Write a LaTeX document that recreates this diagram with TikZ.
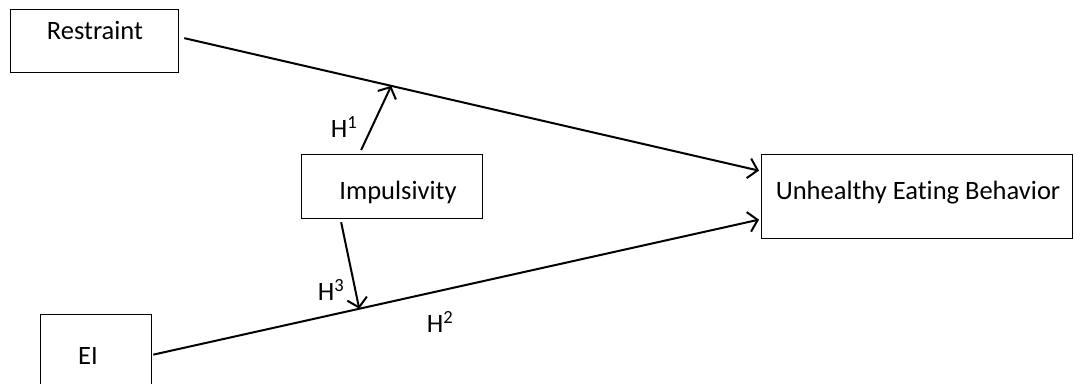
\documentclass[tikz,border=0pt]{standalone}
\usepackage{fontspec}
\setmainfont{Carlito}[Ligatures={NoCommon}]
\usetikzlibrary{arrows.meta}
\begin{document}
\begin{tikzpicture}[x=1pt,y=-1pt,
  box/.style={draw,line width=1.3pt,inner sep=0pt,anchor=north west},
  lbl/.style={font=\fontsize{26.5}{30}\selectfont,inner sep=0pt},
  conn/.style={line width=2pt,-{Straight Barb[length=9pt,width=20pt,line width=2pt]}}]
\useasboundingbox (0,0) rectangle (1074,383);
% boxes
\node[box,minimum width=168pt,minimum height=63pt] (restraint) at (10,9) {};
\node[box,minimum width=181pt,minimum height=64pt] (impuls) at (301,154) {};
\node[box,minimum width=311pt,minimum height=84pt] (ueb) at (761,154) {};
\node[box,minimum width=111pt,minimum height=80pt] (ei) at (40,314) {};
% texts
\node[lbl] (trestraint) at (95,30) {Restraint};
\node[lbl] (timpuls) at (398,192) {Impulsivity};
\node[lbl] (tueb) at (918,193) {Unhealthy Eating Behavior};
\node[lbl] (tei) at (88,356) {EI};
% hypothesis labels
\node[lbl] (h1) at (344,127) {H\textsuperscript{1}};
\node[lbl] (h3) at (331,290) {H\textsuperscript{3}};
\node[lbl] (h2) at (440,322) {H\textsuperscript{2}};
% main connectors
\draw[conn] ([xshift=5pt,yshift=3pt]restraint.east) -- ([xshift=-2pt,yshift=26pt]ueb.west)
  coordinate[pos=0.36] (m1);
\draw[conn] ([xshift=1pt]ei.east) -- ([xshift=-2pt,yshift=-23pt]ueb.west)
  coordinate[pos=0.34] (m3);
% moderating arrows
\draw[conn] ([xshift=-31pt,yshift=4pt]impuls.north) -- (m1);
\draw[conn] ([xshift=-51pt,yshift=-3pt]impuls.south) -- (m3);
\end{tikzpicture}
\end{document}
